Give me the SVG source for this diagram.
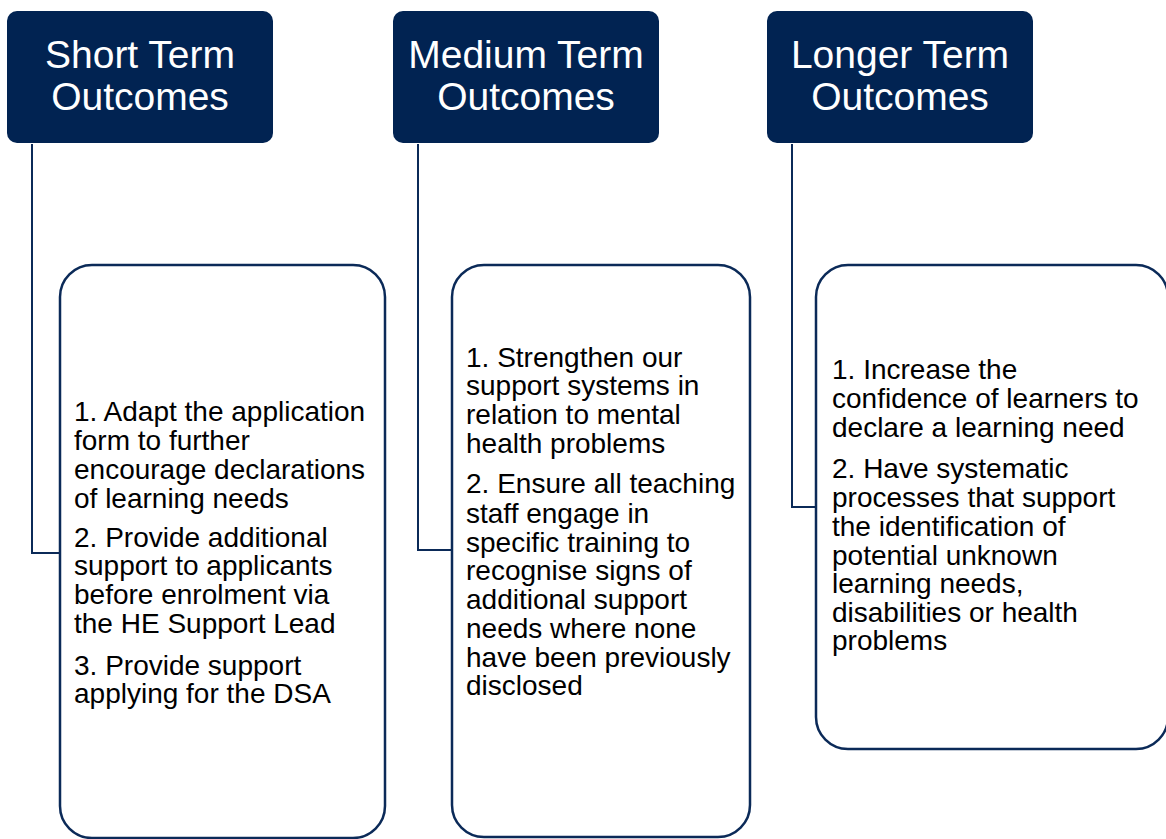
<svg xmlns="http://www.w3.org/2000/svg" width="1166" height="839" viewBox="0 0 1166 839">
<style>
.hdr{fill:#012352;}
.hdrt{fill:#ffffff;font-family:"Liberation Sans",Arial,sans-serif;font-size:39px;text-anchor:middle;}
.box{fill:#ffffff;stroke:#0b2a58;stroke-width:2.5;}
.bt{fill:#000000;font-family:"Liberation Sans",Arial,sans-serif;font-size:28px;}
.con{fill:none;stroke:#0b2a58;stroke-width:2;}
</style>
<rect width="1166" height="839" fill="#ffffff"/>
<g id="connectors">
<path class="con" d="M32,144 V553 H60"/>
<path class="con" d="M418,144 V550 H452"/>
<path class="con" d="M792,144 V507 H816"/>
</g>
<g id="short-header">
<rect class="hdr" x="7" y="11" width="266" height="132" rx="10"/>
<text class="hdrt" x="140" y="68">Short Term</text>
<text class="hdrt" x="140" y="110">Outcomes</text>
</g>
<g id="medium-header">
<rect class="hdr" x="393" y="11" width="266" height="132" rx="10"/>
<text class="hdrt" x="526" y="68">Medium Term</text>
<text class="hdrt" x="526" y="110">Outcomes</text>
</g>
<g id="longer-header">
<rect class="hdr" x="767" y="11" width="266" height="132" rx="10"/>
<text class="hdrt" x="900" y="68">Longer Term</text>
<text class="hdrt" x="900" y="110">Outcomes</text>
</g>
<g id="short-box">
<rect class="box" x="60" y="265" width="325" height="573" rx="32"/>
<text class="bt" x="74" y="421">1. Adapt the application</text>
<text class="bt" x="74" y="450">form to further</text>
<text class="bt" x="74" y="479">encourage declarations</text>
<text class="bt" x="74" y="508">of learning needs</text>
<text class="bt" x="74" y="547">2. Provide additional</text>
<text class="bt" x="74" y="575">support to applicants</text>
<text class="bt" x="74" y="604">before enrolment via</text>
<text class="bt" x="74" y="633">the HE Support Lead</text>
<text class="bt" x="74" y="675">3. Provide support</text>
<text class="bt" x="74" y="703">applying for the DSA</text>
</g>
<g id="medium-box">
<rect class="box" x="452" y="265" width="298" height="572" rx="32"/>
<text class="bt" x="466" y="367">1. Strengthen our</text>
<text class="bt" x="466" y="395">support systems in</text>
<text class="bt" x="466" y="424">relation to mental</text>
<text class="bt" x="466" y="453">health problems</text>
<text class="bt" x="466" y="493">2. Ensure all teaching</text>
<text class="bt" x="466" y="523">staff engage in</text>
<text class="bt" x="466" y="552">specific training to</text>
<text class="bt" x="466" y="580">recognise signs of</text>
<text class="bt" x="466" y="609">additional support</text>
<text class="bt" x="466" y="638">needs where none</text>
<text class="bt" x="466" y="667">have been previously</text>
<text class="bt" x="466" y="695">disclosed</text>
</g>
<g id="longer-box">
<rect class="box" x="816" y="265" width="352" height="484" rx="32"/>
<text class="bt" x="832" y="379">1. Increase the</text>
<text class="bt" x="832" y="408">confidence of learners to</text>
<text class="bt" x="832" y="437">declare a learning need</text>
<text class="bt" x="832" y="478">2. Have systematic</text>
<text class="bt" x="832" y="507">processes that support</text>
<text class="bt" x="832" y="536">the identification of</text>
<text class="bt" x="832" y="565">potential unknown</text>
<text class="bt" x="832" y="593">learning needs,</text>
<text class="bt" x="832" y="622">disabilities or health</text>
<text class="bt" x="832" y="650">problems</text>
</g>
</svg>
